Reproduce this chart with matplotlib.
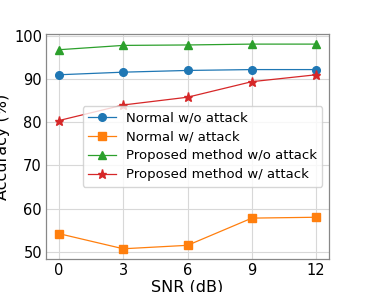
import matplotlib
matplotlib.use("Agg")
import matplotlib.pyplot as plt

snr = [0, 3, 6, 9, 12]
normal_wo = [91.0, 91.6, 92.0, 92.2, 92.2]
normal_w = [54.2, 50.7, 51.5, 57.8, 58.0]
proposed_wo = [96.8, 97.8, 97.9, 98.1, 98.1]
proposed_w = [80.4, 84.0, 85.8, 89.4, 91.0]
labels = ["Normal w/o attack", "Normal w/ attack",
          "Proposed method w/o attack", "Proposed method w/ attack"]

fig = plt.figure(figsize=(3.66, 2.92), dpi=100)
ax = fig.add_axes([0.126, 0.113, 0.773, 0.771])

lw = 0.9
ax.plot(snr, normal_wo, marker='o', color='#1f77b4', ms=5.5, lw=lw, label=labels[0])
ax.plot(snr, normal_w, marker='s', color='#ff7f0e', ms=5.2, lw=lw, label=labels[1])
ax.plot(snr, proposed_wo, marker='^', color='#2ca02c', ms=6, lw=lw, label=labels[2])
ax.plot(snr, proposed_w, marker='*', color='#d62728', ms=6.5, lw=lw, label=labels[3])

ax.set_xticks(snr)
ax.set_yticks([50, 60, 70, 80, 90, 100])
ax.tick_params(labelsize=10.5, length=0, pad=3)
ax.grid(True, color='#d8d8d8', lw=0.8)
ax.set_axisbelow(True)
for s in ax.spines.values():
    s.set_color('#888888')
    s.set_linewidth(0.9)
ax.set_xlabel("SNR (dB)", fontsize=11.5, labelpad=1)
ax.set_ylabel("Accuracy (%)", fontsize=11.5, labelpad=2.5)
ax.legend(loc='center right', fontsize=9.5, framealpha=0.8, handlelength=2.1,
          handletextpad=0.8, borderpad=0.4, labelspacing=0.45)

fig.savefig("out.png", dpi=100)
